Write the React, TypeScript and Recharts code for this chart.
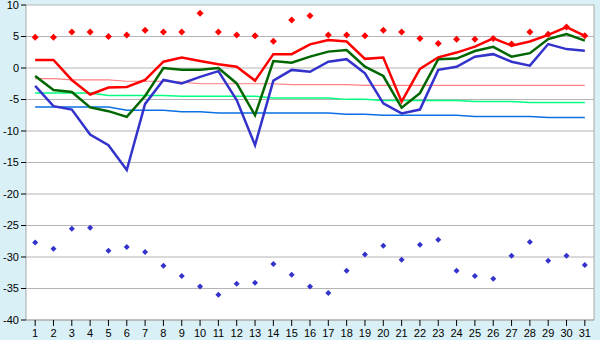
import { CartesianGrid, ComposedChart, Line, XAxis, YAxis } from "recharts";

// dzień miesiąca
const days = [
  1, 2, 3, 4, 5, 6, 7, 8, 9, 10, 11, 12, 13, 14, 15, 16, 17, 18, 19, 20, 21, 22, 23, 24, 25, 26, 27, 28, 29, 30, 31,
];

// temperatura maksymalna / średnia / minimalna
const tMax = [
  1.27, 1.27, -1.9, -4.2, -3.1, -3.0, -1.9, 1.0, 1.65, 1.1, 0.6, 0.2, -2.0, 2.2, 2.2, 3.75, 4.45, 4.2, 1.45, 1.65,
  -5.35, -0.15, 1.7, 2.45, 3.4, 4.7, 3.55, 4.2, 5.25, 6.5, 5.1,
];
const tMean = [
  -1.27, -3.5, -3.8, -6.25, -6.85, -7.75, -4.45, 0, -0.27, -0.27, 0, -2.45, -7.5, 1.1, 0.85, 1.8, 2.6, 2.85, 0.2,
  -1.27, -6.3, -4.0, 1.4, 1.5, 2.7, 3.35, 1.8, 2.35, 4.6, 5.4, 4.35,
];
const tMin = [
  -2.85, -6.05, -6.6, -10.55, -12.25, -16.2, -5.7, -1.9, -2.45, -1.4, -0.5, -5.1, -12.25, -2.0, -0.3, -0.6, 1.0, 1.4,
  -0.85, -5.6, -7.2, -6.6, -0.3, 0.2, 1.8, 2.2, 1.0, 0.37, 3.8, 3.0, 2.75,
];

// rekordy
const recMax = [
  4.9, 4.9, 5.7, 5.7, 5.0, 5.25, 6.0, 5.7, 5.7, 8.7, 5.7, 5.25, 5.1, 4.25, 7.6, 8.3, 5.25, 5.25, 5.1, 6.0, 5.7, 4.7,
  3.9, 4.55, 4.55, 4.7, 3.8, 5.7, 5.35, 6.5, 5.1,
];
const recMin = [
  -27.7, -28.7, -25.5, -25.35, -29.0, -28.4, -29.2, -31.4, -33.0, -34.7, -36.0, -34.25, -34.1, -31.1, -32.8, -34.7,
  -35.7, -32.2, -29.6, -28.2, -30.45, -28.05, -27.25, -32.2, -33.0, -33.45, -29.8, -27.6, -30.6, -29.8, -31.25,
];

// normy wieloletnie
const normMax = [
  -1.7, -1.7, -1.9, -1.9, -1.9, -2.1, -2.1, -2.1, -2.25, -2.5, -2.5, -2.5, -2.5, -2.5, -2.65, -2.65, -2.65, -2.65,
  -2.75, -2.75, -2.75, -2.75, -2.75, -2.75, -2.75, -2.75, -2.75, -2.75, -2.75, -2.75, -2.75,
];
const normMean = [
  -3.95, -3.95, -3.95, -3.95, -4.35, -4.35, -4.35, -4.35, -4.5, -4.5, -4.5, -4.5, -4.5, -4.77, -4.77, -4.77, -4.77,
  -4.98, -4.98, -5.14, -5.14, -5.14, -5.14, -5.14, -5.3, -5.3, -5.3, -5.46, -5.46, -5.46, -5.46,
];
const normMin = [
  -6.2, -6.2, -6.2, -6.2, -6.2, -6.7, -6.7, -6.7, -6.95, -6.95, -7.15, -7.15, -7.15, -7.15, -7.15, -7.15, -7.15,
  -7.35, -7.35, -7.5, -7.5, -7.5, -7.5, -7.5, -7.68, -7.68, -7.68, -7.68, -7.84, -7.84, -7.84,
];

const yTicks = [10, 5, 0, -5, -10, -15, -20, -25, -30, -35, -40];

const data = days.map((d, i) => ({
  day: d,
  tMax: tMax[i],
  tMean: tMean[i],
  tMin: tMin[i],
  recMax: recMax[i],
  recMin: recMin[i],
  normMax: normMax[i],
  normMean: normMean[i],
  normMin: normMin[i],
}));

const FONT = "'Liberation Sans', Arial, sans-serif";

function diamond(color: string, r: number) {
  return (props: any) => {
    const { cx, cy, index } = props;
    if (cx == null || cy == null) return <g key={index} />;
    return (
      <path
        key={index}
        d={`M${cx},${cy - r} L${cx + r},${cy} L${cx},${cy + r} L${cx - r},${cy} Z`}
        fill={color}
        stroke="none"
      />
    );
  };
}

export default function App() {
  return (
    <div style={{ position: "absolute", left: 0, top: 0, width: 600, height: 340, background: "#daf0f7" }}>
      <ComposedChart width={600} height={340} data={data} margin={{ top: 5, right: 5, bottom: 0, left: 0 }}>
        <CartesianGrid vertical={false} stroke="#b4b4b4" fill="#ffffff" fillOpacity={1} />
        <XAxis
          dataKey="day"
          type="category"
          scale="band"
          interval={0}
          height={20}
          tickSize={6}
          tickMargin={3}
          axisLine={{ stroke: "#a8a8a8" }}
          tickLine={{ stroke: "#000" }}
          tick={{ fontSize: 11, fill: "#000", fontFamily: FONT }}
        />
        <YAxis
          domain={[-40, 10]}
          ticks={yTicks}
          interval={0}
          width={26}
          tickSize={5}
          tickMargin={2}
          axisLine={{ stroke: "#a8a8a8" }}
          tickLine={{ stroke: "#000" }}
          tick={{ fontSize: 11, fill: "#000", fontFamily: FONT }}
        />
        <YAxis
          yAxisId="frame"
          orientation="right"
          width={1}
          tick={false}
          tickLine={false}
          axisLine={{ stroke: "#a8a8a8" }}
        />
        <Line dataKey="normMax" stroke="#ff8080" strokeWidth={1.2} dot={false} isAnimationActive={false} />
        <Line dataKey="normMean" stroke="#00ff80" strokeWidth={1.5} dot={false} isAnimationActive={false} />
        <Line dataKey="normMin" stroke="#0a70e6" strokeWidth={1.5} dot={false} isAnimationActive={false} />
        <Line dataKey="tMin" stroke="#3333cc" strokeWidth={2.5} dot={false} isAnimationActive={false} />
        <Line dataKey="tMean" stroke="#006600" strokeWidth={2.5} dot={false} isAnimationActive={false} />
        <Line dataKey="tMax" stroke="#ff0000" strokeWidth={2.5} dot={false} isAnimationActive={false} />
        <Line
          dataKey="recMax"
          stroke="none"
          dot={diamond("#ff0000", 3.5)}
          activeDot={false}
          isAnimationActive={false}
        />
        <Line
          dataKey="recMin"
          stroke="none"
          dot={diamond("#3333cc", 3)}
          activeDot={false}
          isAnimationActive={false}
        />
      </ComposedChart>
    </div>
  );
}
